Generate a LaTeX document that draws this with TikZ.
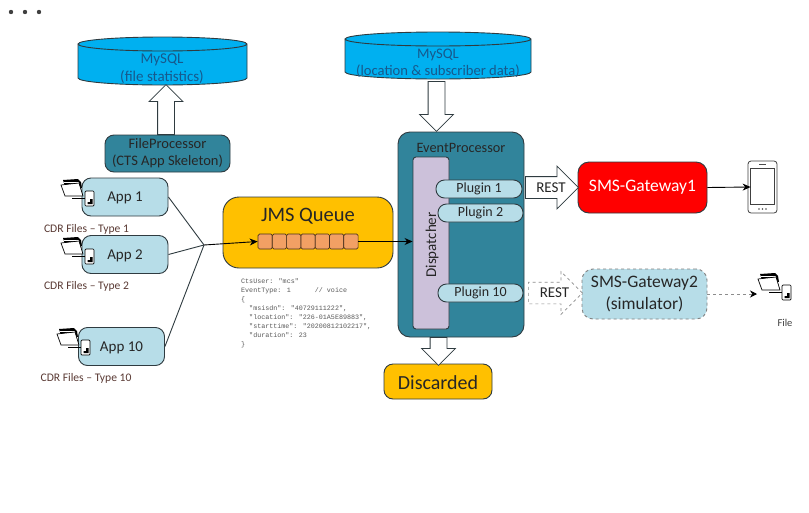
\documentclass[tikz,border=0pt]{standalone}
\usepackage{fontspec}
\setmainfont{Carlito}
\newfontfamily\jsonfont{Liberation Mono}
\usepackage{tikz}
\usetikzlibrary{positioning}
\usetikzlibrary{arrows.meta,shapes.arrows}
\definecolor{tealbox}{HTML}{31849B}
\definecolor{lightbox}{HTML}{B7DDE8}
\definecolor{amberbox}{HTML}{FFC000}
\definecolor{skybox}{HTML}{00B0F0}
\definecolor{lilacbox}{HTML}{CCC1DA}
\definecolor{cellbox}{HTML}{F2A064}
\definecolor{edgeink}{HTML}{2F3B40}
\definecolor{labelink}{HTML}{5A3A34}
\definecolor{dbink}{HTML}{17598C}
\tikzset{
	box/.style={draw=edgeink,line width=0.9pt,rounded corners=9pt,align=center,inner sep=0pt,text=black!85},
	appbox/.style={box,fill=lightbox,minimum width=86pt,minimum height=38pt,text depth=0pt,font=\fontsize{15}{17}\selectfont},
	pluginbox/.style={box,fill=lightbox,rounded corners=8.5pt,minimum height=18pt,font=\fontsize{14}{16}\selectfont},
	dbdrum/.style={draw=edgeink,line width=0.9pt,fill=skybox},
	dbtext/.style={align=center,text=dbink},
	bigarrow/.style={draw=edgeink,line width=0.8pt,fill=white,single arrow,anchor=tail,single arrow head extend=8.5pt,minimum width=33pt,inner xsep=0pt,inner ysep=8pt},
	restarrow/.style={single arrow,anchor=tail,fill=white,single arrow head extend=10.5pt,minimum width=42pt,inner xsep=0pt,inner ysep=10.5pt},
	resttext/.style={font=\fontsize{15}{17}\selectfont,text=black!85},
	filelabel/.style={text=labelink,font=\fontsize{11.6}{13}\selectfont,inner sep=0pt},
	wire/.style={draw=edgeink,line width=0.9pt},
	pics/cdrfile/.style={code={
		\fill[black] (-22,-11) -- (-7,-12) -- (-4,-9) -- (-3,-3) -- (-20,-5) -- cycle;
		\draw[white,line width=0.5pt] (-21,-9) -- (-6,-9);
		\draw[black,fill=white,line width=0.7pt] (-24,-6) -- (-6,-8) -- (-2,5) -- (-20,5) -- cycle;
		\draw[black,line width=0.7pt] (-13,7) -- (0,7);
		\draw[black,fill=white,rounded corners=1pt,line width=0.7pt] (0,0) rectangle (9,15);
		\fill[black] (2.5,13) -- (2.5,11) -- (5,11) -- (5,8) -- (7.5,8) -- (7.5,13) -- cycle;
	}}
}
\begin{document}
\begin{tikzpicture}[x=1pt,y=-1pt]
	\useasboundingbox[fill=white] (0,0) rectangle (809,512);
	\foreach \xdot in {11,25,39} {
		\fill[black!75] (\xdot,12) circle (2.2);
	}
	\draw[dbdrum] (78,44) -- (78,78) arc[start angle=180,end angle=360,x radius=84.5pt,y radius=7pt] -- (247,44) arc[start angle=0,end angle=360,x radius=84.5pt,y radius=7pt];
	\node (dbFile) [dbtext,font=\fontsize{15}{18}\selectfont] at (162,69) {MySQL\\(file statistics)};
	\node (fileProc) [box,fill=tealbox,minimum width=125pt,minimum height=37pt,text depth=3pt,font=\fontsize{14.5}{17}\selectfont] at (167.5,153.5) {FileProcessor\\(CTS App Skeleton)};
	\node (upArrow) [bigarrow,minimum height=50pt,rotate=90] at (166,135) {};

	\node (app1) [appbox] at (125,197) {App 1};
	\node (app2) [appbox] at (125,254.5) {App 2};
	\node (app10) [appbox] at (121.5,346.5) {App 10};
	\pic at (85,191) {cdrfile};
	\pic at (85,249) {cdrfile};
	\pic at (81,340) {cdrfile};
	\node (type1) [filelabel] at (86.5,229.5) {CDR Files – Type 1};
	\node (type2) [filelabel] at (86.5,286.5) {CDR Files – Type 2};
	\node (type10) [filelabel] at (86,378) {CDR Files – Type 10};

	\node (queue) [box,fill=amberbox,minimum width=170pt,minimum height=71pt,rounded corners=16pt] at (308,232.5) {};
	\node (queueText) [text=black!85,font=\fontsize{20.5}{24}\selectfont] at (308,216) {JMS Queue};
	\foreach \i in {1,...,7} {
		\node (cell\i) [draw=black!70!cellbox,fill=cellbox,line width=0.7pt,rounded corners=1.5pt,minimum width=14.3pt,minimum height=15pt,inner sep=0pt] at ({258+(\i-0.5)*14.3},241.5) {};
	}
	\coordinate (merge) at (204,245);
	\draw[wire] (app1.east) -- (merge);
	\draw[wire] (app2.east) -- (merge);
	\draw[wire] (app10.east) -- (merge);
	\draw[wire,-{Stealth[length=8pt,width=7pt]},draw=black] (merge) -- (cell1.west);

	\node (jsonText) [anchor=north west,align=left,inner sep=0pt,text=black!65,font=\jsonfont\fontsize{6.7}{9}\selectfont] at (241,278) {CtsUser: "mcs"\\EventType: 1\ \ \ \ \ \ // voice\\\{\\\ \ "msisdn": "40729111222",\\\ \ "location": "226-01A5E89883",\\\ \ "starttime": "20200812102217",\\\ \ "duration": 23\\\}};

	\draw[dbdrum] (345,39) -- (345,72) arc[start angle=180,end angle=360,x radius=93pt,y radius=7pt] -- (531,39) arc[start angle=0,end angle=360,x radius=93pt,y radius=7pt];
	\node (dbLoc) [dbtext,font=\fontsize{14.6}{17.5}\selectfont] at (438,63.5) {MySQL\\(location \& subscriber data)};
	\node (eventProc) [box,fill=tealbox,minimum width=126pt,minimum height=205pt,rounded corners=12pt] at (461,234.5) {};
	\node (eventText) [text=black!85,font=\fontsize{14.3}{16}\selectfont] at (461,148) {EventProcessor};
	\node (dispatcher) [box,fill=lilacbox,rounded corners=3pt,minimum width=36pt,minimum height=172pt] at (431,243) {};
	\node (dispatcherText) [rotate=90,text=black!85,font=\fontsize{15}{17}\selectfont] at (432,245) {Dispatcher};
	\node (plugin1) [pluginbox,minimum width=86pt] at (479,189) {Plugin 1};
	\node (plugin2) [pluginbox,minimum width=85pt] at (480.5,213) {Plugin 2};
	\node (plugin10) [pluginbox,minimum width=85pt] at (480.5,293) {Plugin 10};
	\node (inArrow) [bigarrow,minimum height=50pt,rotate=-90] at (436.5,81) {};
	\node (discarded) [box,fill=amberbox,minimum width=108pt,minimum height=35pt,text height=16pt,font=\fontsize{20}{24}\selectfont] at (438,381.5) {Discarded};
	\node (outArrow) [bigarrow,minimum height=28pt,rotate=-90] at (438.5,337) {};
	\draw[wire,-{Stealth[length=8pt,width=7pt]},draw=black] (cell7.east) -- (cell7.east -| dispatcher.west);

	\node (gateway1) [box,fill=red,text=white,rounded corners=11pt,minimum width=129pt,minimum height=51pt,text depth=2.5pt,font=\fontsize{17.5}{20}\selectfont] at (642.5,187.5) {SMS-Gateway1};
	\node (gateway2) [box,draw=black!50,dashed,fill=lightbox,rounded corners=11pt,minimum width=125pt,minimum height=50pt,font=\fontsize{17.5}{22}\selectfont] at (644.5,294) {SMS-Gateway2\\(simulator)};
	\node (rest1) [restarrow,draw=edgeink,line width=0.8pt,minimum height=53pt] at (525,187.5) {};
	\node (rest1Text) [resttext] at (551,187.5) {REST};
	\node (rest2) [restarrow,draw=black!45,dashed,line width=0.7pt,minimum height=54pt] at (528,293) {};
	\node (rest2Text) [resttext] at (554.5,293) {REST};

	\node (phone) [draw=black!75,fill=white,line width=0.8pt,rounded corners=3pt,minimum width=29pt,minimum height=52pt,inner sep=0pt] at (762.5,187) {};
	\node (screen) [draw=black!75,fill=white,line width=0.7pt,minimum width=24pt,minimum height=36pt,inner sep=0pt] at (762.5,186) {};
	\draw[black!70,line width=1pt] (759,164.5) -- (766,164.5);
	\foreach \xdot in {759,762.5,766} {
		\fill[black!70] (\xdot,209) circle (0.8);
	}
	\draw[wire,-{Stealth[length=8pt,width=7pt]},draw=black] (gateway1.east) -- ([xshift=3pt]phone.west);

	\pic at (782,285) {cdrfile};
	\coordinate (fileIn) at (757,294);
	\draw[line width=0.8pt,draw=black!45,dashed,-{Stealth[length=7pt,width=7pt,black]}] (gateway2.east) -- (fileIn);
	\node (fileText) [text=black!75,font=\fontsize{10.5}{12}\selectfont] at (785,323) {File};
\end{tikzpicture}
\end{document}
